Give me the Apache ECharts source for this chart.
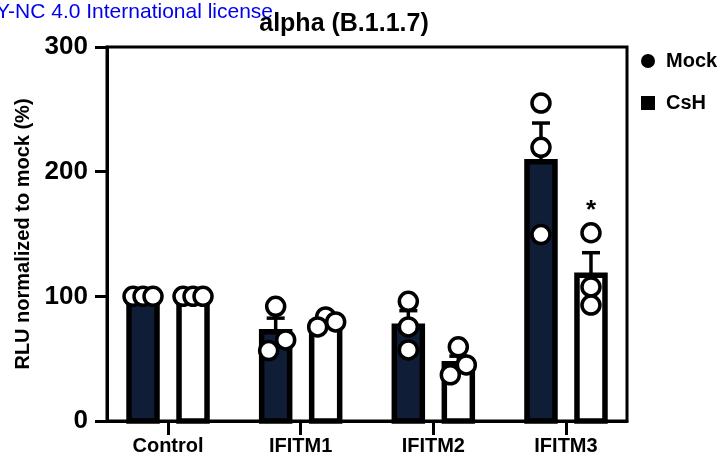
<!DOCTYPE html>
<html>
<head>
<meta charset="utf-8">
<script src="https://cdn.jsdelivr.net/npm/echarts@6/dist/echarts.min.js"></script>
<style>
  html, body { margin: 0; padding: 0; background: #fff; }
  #chart { width: 727px; height: 474px; }
</style>
</head>
<body>
<div id="chart"></div>
<script>
const categories = ["Control", "IFITM1", "IFITM2", "IFITM3"];
const mockMean = [100, 71.5, 76, 208];
const mockErr = [0, 11, 12.5, 31];
const cshMean = [100, 79, 46, 117];
const cshErr = [0, 3, 6, 18];
const mockPoints = [[100, 100, 100], [92, 65, 56.5], [96, 75.5, 57], [255, 219.5, 149.5]];
const cshPoints = [[100, 100, 100], [83.5, 75.5, 79.5], [59.5, 45, 37], [151, 107.5, 93]];
const cshMarks = ["", "", "", "*"];
const yTicks = [0, 100, 200, 300];

// horizontal spread of overlapping dots (px), like the prism layout
const mockSpread = [[-10, 0, 10], [0, 10, -7], [0, 0, 0], [0, 0, 0]];
const cshSpread = [[-10, 0, 10], [0, -8, 10], [0, 8, -8], [0, 0, 0]];

const FONT = "Liberation Sans, Arial, sans-serif";
const SHIFT = 25;
const BAR_W = 28;
const NAVY = "#101d37";

function barSeries(name, means, shift, fill) {
  return {
    name: name,
    type: "custom",
    z: 2,
    data: means.map((v, i) => [i, v]),
    renderItem(params, api) {
      const base = api.coord([api.value(0), 0]);
      const top = api.coord([api.value(0), api.value(1)]);
      const cx = base[0] + shift;
      return {
        type: "rect",
        shape: { x: cx - BAR_W / 2, y: top[1], width: BAR_W, height: base[1] - top[1] },
        style: { fill: fill, stroke: "#000", lineWidth: 5.5 }
      };
    }
  };
}

function errSeries(name, means, errs, shift, points, marks) {
  return {
    name: name,
    type: "custom",
    z: 3,
    data: means.map((v, i) => [i, v, errs[i]]),
    renderItem(params, api) {
      const i = api.value(0);
      const m = api.value(1);
      const e = api.value(2);
      const p0 = api.coord([i, m]);
      const p1 = api.coord([i, m + e]);
      const cx = p0[0] + shift;
      const children = [];
      if (e > 0) {
        children.push({
          type: "line",
          shape: { x1: cx, y1: p0[1], x2: cx, y2: p1[1] },
          style: { stroke: "#000", lineWidth: 3.5 }
        });
        children.push({
          type: "line",
          shape: { x1: cx - 9, y1: p1[1], x2: cx + 9, y2: p1[1] },
          style: { stroke: "#000", lineWidth: 3.5 }
        });
      }
      if (marks && marks[i]) {
        const hi = api.coord([i, Math.max.apply(null, points[i])]);
        children.push({
          type: "text",
          x: cx,
          y: hi[1] - 22,
          style: { text: marks[i], font: "bold 26px " + FONT, fill: "#000", align: "center", verticalAlign: "middle" }
        });
      }
      return { type: "group", children: children };
    }
  };
}

function dotSeries(name, points, spread, shift) {
  const data = [];
  points.forEach((arr, i) => {
    arr.forEach((v, k) => {
      data.push({ value: [i, v], symbolOffset: [shift + spread[i][k], 0] });
    });
  });
  return {
    name: name,
    type: "scatter",
    z: 4,
    symbol: "circle",
    symbolSize: 18,
    itemStyle: { color: "#fff", borderColor: "#000", borderWidth: 3.5, opacity: 1 },
    data: data
  };
}

const chart = echarts.init(document.getElementById("chart"));
chart.setOption({
  animation: false,
  backgroundColor: "#fff",
  textStyle: { fontFamily: FONT },
  graphic: [
    {
      type: "text", x: -4, y: 12, z: 1,
      style: { text: "Y-NC 4.0 International license", font: "21px " + FONT, fill: "#0000ee", align: "left", verticalAlign: "middle" }
    },
    {
      type: "text", x: 344, y: 24, z: 2,
      style: { text: "alpha (B.1.1.7)", font: "bold 25px " + FONT, fill: "#000", align: "center", verticalAlign: "middle" }
    }
  ],
  legend: {
    orient: "vertical",
    left: 636,
    top: 46,
    itemWidth: 26,
    itemHeight: 14,
    itemGap: 22,
    symbolKeepAspect: true,
    textStyle: { fontSize: 20, fontWeight: "bold", color: "#000", fontFamily: FONT },
    data: [
      { name: "Mock", icon: "circle", itemStyle: { color: "#000", borderWidth: 0 } },
      { name: "CsH", icon: "path://M0,0H1V1H0Z", itemStyle: { color: "#000", borderWidth: 0 } }
    ]
  },
  grid: {
    left: 107, right: 100, top: 47, bottom: 53,
    show: true, borderColor: "#000", borderWidth: 3
  },
  xAxis: {
    type: "value",
    min: -0.46,
    max: 3.46,
    splitLine: { show: false },
    axisLine: { show: true, onZero: true, lineStyle: { color: "#000", width: 3 } },
    axisTick: { show: true, length: 14, customValues: [0, 1, 2, 3], lineStyle: { color: "#000", width: 3 } },
    axisLabel: {
      customValues: [0, 1, 2, 3],
      formatter: v => categories[Math.round(v)],
      margin: 15,
      fontSize: 20,
      fontWeight: "bold",
      color: "#000",
      fontFamily: FONT
    }
  },
  yAxis: {
    type: "value",
    min: yTicks[0],
    max: yTicks[yTicks.length - 1],
    interval: 100,
    name: "RLU normalized to mock (%)",
    nameLocation: "middle",
    nameGap: 63,
    nameTextStyle: { fontSize: 20, fontWeight: "bold", color: "#000", fontFamily: FONT },
    splitLine: { show: false },
    axisLine: { show: true, onZero: false, lineStyle: { color: "#000", width: 3 } },
    axisTick: { show: true, length: 12, lineStyle: { color: "#000", width: 3 } },
    axisLabel: { margin: 19, fontSize: 26, fontWeight: "bold", color: "#000", fontFamily: FONT }
  },
  series: [
    barSeries("Mock bars", mockMean, -SHIFT, NAVY),
    barSeries("CsH bars", cshMean, SHIFT, "#fff"),
    errSeries("Mock err", mockMean, mockErr, -SHIFT),
    errSeries("CsH err", cshMean, cshErr, SHIFT, cshPoints, cshMarks),
    dotSeries("Mock", mockPoints, mockSpread, -SHIFT),
    dotSeries("CsH", cshPoints, cshSpread, SHIFT)
  ]
});
</script>
</body>
</html>
